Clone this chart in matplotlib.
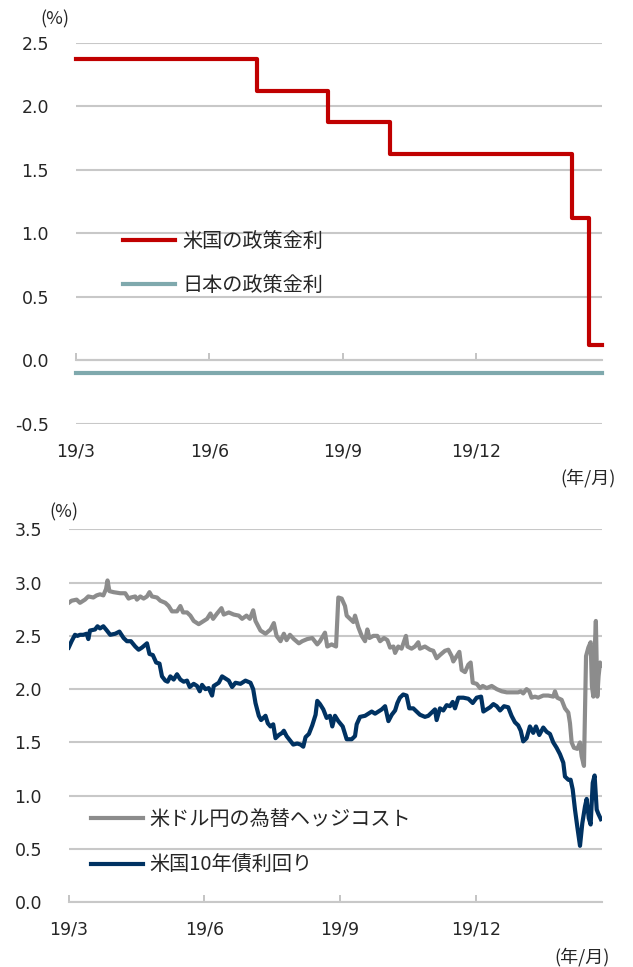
import matplotlib
matplotlib.use('Agg')
import matplotlib.pyplot as plt
import numpy as np

plt.rcParams['font.family'] = ['DejaVu Sans', 'Noto Sans CJK JP']
CJK = ['Noto Sans CJK JP', 'DejaVu Sans']

# ---------------- data ----------------
# x axis: business-day index starting at end of 2019/3
tick_idx = [0, 65, 130, 195]
tick_labels = ['19/3', '19/6', '19/9', '19/12']

# Top chart: policy rates (%)
us_policy_idx = [0, 88, 123, 153, 242, 250, 256.4]
us_policy_rate = [2.375, 2.125, 1.875, 1.625, 1.125, 0.125, 0.125]
jp_policy_idx = [0, 256.4]
jp_policy_rate = [-0.1, -0.1]

# Bottom chart: USD/JPY hedge cost (%)
hedge_idx = [0, 1.4, 3.8, 5.4, 7.8, 9.4, 11.8, 13.4, 15.0, 16.6, 17.9, 18.6, 19.5, 21.5,
             24.7, 27.1, 28.7, 29.8, 31.9, 32.7, 34.3, 35.9, 37.5, 38.7, 39.9, 42.3, 43.9,
             46.3, 47.9, 49.5, 51.9, 53.5, 54.8, 56.7, 58.3, 59.9, 62.3, 64.7, 66.3, 67.9,
             69.2, 71.1, 73.2, 74.3, 76.7, 79.1, 81.5, 83.1, 85.2, 86.8, 88.4, 89.5, 91.9,
             94.3, 96.7, 98.3, 99.6, 101.5, 103.1, 104.4, 106.0, 107.9, 110.3, 111.9, 114.3,
             116.7, 119.1, 120.4, 122.8, 123.9, 126.0, 128.1, 129.2, 130.8, 132.4, 133.2,
             134.8, 136.4, 137.2, 138.8, 140.4, 142.0, 143.1, 144.1, 146.0, 147.9, 149.2,
             151.1, 152.7, 154.0, 155.6, 156.4, 157.9, 159.5, 161.6, 162.3, 164.3, 165.9,
             167.5, 168.3, 170.7, 173.1, 174.7, 176.3, 177.9, 180.3, 181.9, 183.5, 184.3,
             185.9, 187.2, 188.3, 189.9, 191.5, 192.6, 193.6, 195.5, 197.1, 198.4, 200.3,
             202.7, 205.1, 207.5, 209.9, 213.0, 215.4, 216.6, 217.8, 219.4, 220.7, 221.8,
             223.4, 225.0, 227.4, 229.8, 232.2, 233.0, 234.1, 236.2, 237.8, 239.4, 240.2,
             241.0, 242.1, 243.7, 245.0, 245.8, 246.9, 247.9, 249.0, 250.1, 250.7, 251.4,
             252.2, 252.6, 253.3, 253.9, 254.6, 255.0]
hedge_cost = [2.81, 2.83, 2.84, 2.81, 2.84, 2.87, 2.86, 2.88, 2.89, 2.88, 2.94, 3.02, 2.92, 2.91,
              2.90, 2.90, 2.85, 2.86, 2.87, 2.84, 2.87, 2.85, 2.87, 2.91, 2.87, 2.86, 2.83,
              2.81, 2.78, 2.73, 2.73, 2.78, 2.72, 2.72, 2.69, 2.64, 2.61, 2.64, 2.66, 2.71,
              2.66, 2.71, 2.76, 2.70, 2.72, 2.70, 2.69, 2.66, 2.69, 2.66, 2.74, 2.64, 2.55,
              2.52, 2.56, 2.62, 2.50, 2.45, 2.52, 2.46, 2.51, 2.47, 2.43, 2.45, 2.47,
              2.48, 2.42, 2.45, 2.53, 2.40, 2.42, 2.40, 2.86, 2.85, 2.78, 2.69,
              2.66, 2.63, 2.69, 2.58, 2.50, 2.45, 2.56, 2.48, 2.50, 2.50, 2.45,
              2.48, 2.46, 2.39, 2.40, 2.34, 2.40, 2.38, 2.50, 2.40, 2.38, 2.40,
              2.44, 2.38, 2.40, 2.37, 2.36, 2.29, 2.32, 2.36, 2.37, 2.31, 2.26,
              2.31, 2.35, 2.18, 2.16, 2.23, 2.25, 2.06, 2.05, 2.01, 2.03, 2.01,
              2.03, 2.00, 1.98, 1.97, 1.97, 1.97, 1.98, 1.96, 2.00, 1.98, 1.92,
              1.93, 1.92, 1.94, 1.94, 1.93, 1.98, 1.92, 1.90, 1.82, 1.78, 1.68,
              1.50, 1.45, 1.44, 1.50, 1.37, 1.28, 2.31, 2.39, 2.44, 2.03, 1.93,
              2.44, 2.64, 1.93, 2.12, 2.25, 2.22]

# Bottom chart: US 10-year Treasury yield (%)
ust_idx = [0, 1.4, 3.0, 4.2, 5.4, 7.0, 8.6, 9.4, 10.2, 12.6, 13.8, 15.0, 16.6, 18.3, 19.9,
           22.3, 24.3, 26.3, 27.9, 29.8, 31.9, 33.5, 35.1, 37.5, 38.7, 40.3, 41.9, 43.5,
           44.7, 46.3, 47.4, 48.7, 50.3, 51.9, 53.5, 55.1, 56.7, 58.0, 59.9, 61.5, 62.8,
           63.9, 65.5, 67.1, 68.7, 69.5, 71.9, 73.5, 75.1, 76.7, 78.3, 79.9, 82.3, 84.7,
           87.1, 88.4, 89.5, 91.1, 92.2, 94.3, 95.4, 96.7, 98.0, 99.1, 100.7, 102.3, 103.1,
           104.4, 106.0, 107.6, 109.5, 111.1, 112.4, 113.5, 115.1, 116.7, 118.3, 119.1,
           120.4, 122.0, 123.6, 125.2, 126.3, 127.6, 129.2, 131.3, 133.2, 135.6, 137.2,
           138.0, 139.6, 142.0, 143.6, 145.2, 146.8, 148.4, 150.0, 151.6, 153.2, 154.8,
           156.4, 157.5, 158.7, 160.3, 161.9, 163.2, 165.1, 166.7, 168.3, 170.7, 172.3,
           173.9, 175.5, 176.3, 177.9, 179.5, 181.1, 182.7, 184.0, 185.1, 186.7, 189.1,
           191.5, 193.6, 195.5, 197.6, 198.7, 200.3, 201.9, 203.5, 205.1, 206.7, 208.6,
           210.6, 212.2, 213.8, 215.4, 216.6, 217.8, 219.4, 221.0, 222.6, 223.9, 225.5,
           227.4, 229.0, 230.6, 232.2, 233.8, 235.4, 237.0, 237.8, 239.4, 240.5, 241.5,
           242.6, 243.7, 245.0, 246.1, 247.4, 248.2, 249.2, 250.1, 251.1, 252.0, 253.0,
           253.8, 255.0]
ust_yield = [2.39, 2.45, 2.51, 2.50, 2.51, 2.51, 2.52, 2.47, 2.55, 2.56, 2.59, 2.57, 2.59, 2.55, 2.51,
             2.52, 2.54, 2.48, 2.45, 2.45, 2.40, 2.37, 2.39, 2.43, 2.33, 2.32, 2.25, 2.24,
             2.12, 2.08, 2.07, 2.12, 2.09, 2.14, 2.09, 2.07, 2.08, 2.02, 2.05, 2.03, 1.98,
             2.04, 2.00, 2.01, 1.94, 2.03, 2.06, 2.12, 2.10, 2.08, 2.02, 2.06, 2.05, 2.08,
             2.06, 2.00, 1.87, 1.75, 1.71, 1.75, 1.68, 1.65, 1.67, 1.54, 1.57, 1.59, 1.61,
             1.56, 1.52, 1.48, 1.49, 1.48, 1.46, 1.55, 1.58, 1.66, 1.76, 1.89,
             1.86, 1.81, 1.73, 1.75, 1.65, 1.75, 1.70, 1.65, 1.53, 1.53, 1.56,
             1.67, 1.74, 1.75, 1.77, 1.79, 1.77, 1.79, 1.81, 1.84, 1.70, 1.76,
             1.80, 1.87, 1.92, 1.95, 1.94, 1.82, 1.82, 1.79, 1.76, 1.74, 1.75,
             1.78, 1.81, 1.71, 1.82, 1.80, 1.85, 1.84, 1.88, 1.82, 1.92, 1.92,
             1.91, 1.87, 1.92, 1.93, 1.79, 1.81, 1.83, 1.86, 1.84, 1.80, 1.84,
             1.83, 1.75, 1.69, 1.66, 1.61, 1.51, 1.54, 1.65, 1.59, 1.65, 1.57,
             1.64, 1.60, 1.58, 1.50, 1.45, 1.39, 1.31, 1.18, 1.15, 1.15, 1.06,
             0.87, 0.71, 0.53, 0.74, 0.90, 0.97, 0.79, 0.73, 1.12, 1.19, 0.87,
             0.83, 0.78]

# ---------------- style ----------------
W, H = 633, 967
RED = '#C00000'
TEAL = '#7FA9AD'
GRAY = '#8C8C8C'
NAVY = '#003262'
GRID = '#C8C8C8'
TXT = '#262626'

fig = plt.figure(figsize=(W / 100, H / 100), dpi=100)

def frac_box(l, t, r, b):
    return [l / W, 1 - b / H, (r - l) / W, (b - t) / H]

def style_axes(ax, yticks, ypad):
    for s in ax.spines.values():
        s.set_visible(False)
    ax.set_yticks(yticks)
    ax.set_yticklabels([f'{v:.1f}' for v in yticks])
    ax.tick_params(axis='y', length=0, pad=ypad, labelsize=12.5, labelcolor=TXT)
    ax.grid(axis='y', color=GRID, lw=1.5)
    ax.set_axisbelow(True)
    ax.set_xticks(tick_idx)
    ax.set_xticklabels(tick_labels)

# ---------- top chart ----------
ax1 = fig.add_axes(frac_box(76, 43, 602, 424))
ax1.set_xlim(0, 256.4)
ax1.set_ylim(-0.5, 2.5)
style_axes(ax1, np.arange(-0.5, 2.51, 0.5), 19.5)
ax1.tick_params(axis='x', length=0, pad=13.5, labelsize=12.5, labelcolor=TXT)

ax1.step(us_policy_idx, us_policy_rate, where='post', color=RED, lw=3,
         solid_capstyle='projecting', clip_on=False, label='米国の政策金利', zorder=3)
ax1.plot(jp_policy_idx, jp_policy_rate, color=TEAL, lw=3,
         solid_capstyle='projecting', clip_on=False, label='日本の政策金利', zorder=3)

# axis line at zero with inward tick marks
sec = ax1.secondary_xaxis(1 / 6)
sec.set_xticks(tick_idx)
sec.set_xticklabels([''] * len(tick_idx))
sec.tick_params(direction='in', length=5, width=1.3, color='#BFBFBF')
for s in sec.spines.values():
    s.set_color(GRID)
    s.set_linewidth(1.5)

leg1 = ax1.legend(loc='upper left', bbox_to_anchor=(123 / W, 1 - 231 / H),
                  bbox_transform=fig.transFigure, frameon=False, borderpad=0,
                  borderaxespad=0, handlelength=2.6, handletextpad=0.35,
                  labelspacing=1.15, prop={'family': CJK, 'size': 14.5})
for t in leg1.get_texts():
    t.set_color(TXT)

fig.text(55 / W, 1 - 19 / H, '(%)', family=CJK, fontsize=13, color=TXT,
         ha='center', va='center')
fig.text(588 / W, 1 - 478 / H, '(年/月)', family=CJK, fontsize=13, color=TXT,
         ha='center', va='center')

# ---------- bottom chart ----------
ax2 = fig.add_axes(frac_box(68.7, 529.3, 601.7, 902.3))
ax2.set_xlim(0, 255.4)
ax2.set_ylim(0, 3.5)
style_axes(ax2, np.arange(0, 3.51, 0.5), 19.2)
ax2.spines['bottom'].set_visible(True)
ax2.spines['bottom'].set_color(GRID)
ax2.spines['bottom'].set_linewidth(1.5)
ax2.tick_params(axis='x', direction='in', length=5, width=1.3, color='#BFBFBF',
                pad=13, labelsize=12.5, labelcolor=TXT)

ax2.plot(hedge_idx, hedge_cost, color=GRAY, lw=3, label='米ドル円の為替ヘッジコスト',
         solid_joinstyle='round', zorder=3)
ax2.plot(ust_idx, ust_yield, color=NAVY, lw=3, label='米国10年債利回り',
         solid_joinstyle='round', zorder=3)

leg2 = ax2.legend(loc='upper left', bbox_to_anchor=(90.7 / W, 1 - 809 / H),
                  bbox_transform=fig.transFigure, frameon=False, borderpad=0,
                  borderaxespad=0, handlelength=2.6, handletextpad=0.3,
                  labelspacing=1.25, prop={'family': CJK, 'size': 14.5})
for t in leg2.get_texts():
    t.set_color(TXT)

fig.text(64 / W, 1 - 512 / H, '(%)', family=CJK, fontsize=13, color=TXT,
         ha='center', va='center')
fig.text(582 / W, 1 - 957 / H, '(年/月)', family=CJK, fontsize=13, color=TXT,
         ha='center', va='center')

fig.savefig('out.png', dpi=100)
